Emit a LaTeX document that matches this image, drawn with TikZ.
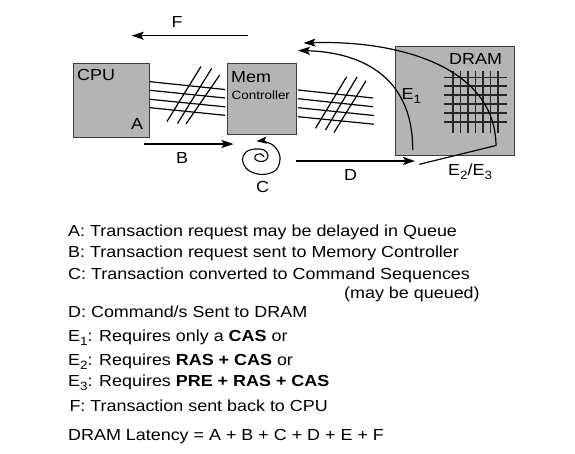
\documentclass[tikz,border=0pt]{standalone}
\usepackage{fontspec}
\setmainfont{Liberation Sans}[FakeStretch=1.12]
\usetikzlibrary{arrows.meta}
\definecolor{boxfill}{RGB}{180,180,180}
\definecolor{boxline}{RGB}{60,60,60}
\newcommand\lowsub[1]{\raisebox{-4pt}{\fontsize{12}{12}\selectfont #1}}
\begin{document}
\begin{tikzpicture}[x=1pt,y=-1pt,
  box/.style={draw=boxline,fill=boxfill,line width=1.3pt,inner sep=0pt,anchor=north west},
  arrowline/.style={line width=1.2pt,-{Stealth[length=12pt,width=8pt,inset=2.5pt]}},
  busline/.style={line width=1.2pt},
  gridline/.style={line width=1.5pt,color=black!85},
  txt/.style={anchor=base west,inner sep=0pt,font=\fontsize{16}{19}\selectfont},
  lab/.style={anchor=base,inner sep=0pt,font=\fontsize{16}{19}\selectfont},
  smalltxt/.style={anchor=base west,inner sep=0pt,font=\fontsize{12}{14}\selectfont}]
\useasboundingbox (0,0) rectangle (575,453);

% boxes
\node[box,minimum width=76pt,minimum height=74pt] (cpu) at (73,63) {};
\node[box,minimum width=69pt,minimum height=71pt] (mem) at (227,63) {};
\node[box,minimum width=119pt,minimum height=109pt] (dram) at (395,46) {};

% DRAM grid
\foreach \i in {0,...,6} \draw[gridline] ({453+7.5*\i},71) -- ({453+7.5*\i},132.5);
\foreach \j in {0,...,5} \draw[gridline] (444,{77.3+8.9*\j}) -- (507,{77.3+8.9*\j});

% bus CPU - Mem
\draw[busline] (150,81.7) -- (225,89.5);
\draw[busline] (150,90.3) -- (225,98);
\draw[busline] (150,99.3) -- (225,106.8);
\draw[busline] (150,107.7) -- (225,115.3);
\draw[busline] (167,121.5) -- (201,66.5);
\draw[busline] (177.5,123.5) -- (211.7,68.3);
\draw[busline] (186,124) -- (219.7,75);

% bus Mem - DRAM
\draw[busline] (298,90) -- (373,98);
\draw[busline] (298,98.7) -- (373,106.7);
\draw[busline] (298,107.7) -- (374,115.5);
\draw[busline] (298,116.7) -- (374,124.2);
\draw[busline] (315.5,128.3) -- (346.5,77);
\draw[busline] (325.5,130) -- (357,77);
\draw[busline] (334,132.5) -- (366,80.8);

% box labels
\node[txt] (cpulab) at (77,80) {CPU};
\node[lab] (alab) at (137,129.3) {A};
\node[txt] (memlab) at (231,82.7) {Mem};
\node[smalltxt] (ctrllab) at (231.5,99) {Controller};
\node[txt] (dramlab) at (449,64) {DRAM};
\node[txt] (e1lab) at (401.5,99.3) {E\lowsub{1}};
\node[txt] (e23lab) at (448,175) {E\lowsub{2}/E\lowsub{3}};

% arrows
\coordinate (fs) at (248,35.7); \coordinate (fe) at (131.7,35.7);
\draw[arrowline] (fs) -- (fe);
\node[lab] (flab) at (177,27.3) {F};
\coordinate (bs) at (144,144); \coordinate (be) at (233.5,144);
\draw[arrowline] (bs) -- (be);
\node[lab] (blab) at (182,163.3) {B};
\coordinate (ds) at (296,161); \coordinate (de) at (415,161);
\draw[arrowline] (ds) -- (de);
\node[lab] (dlab) at (350.5,180) {D};
\node[lab] (clab) at (262.5,192.3) {C};

% spiral C
\draw[line width=1.1pt,-{Stealth[length=10pt,width=7pt,inset=2pt]}]
  plot[smooth,tension=0.6] coordinates {(264,157) (261,154) (256,155) (255,159) (260,161.5) (266,160) (268,155) (264,150) (255,149) (246,152) (242.5,160) (248,170) (262,174.5) (276,170) (280,157) (274,146) (264,141.5) (256.5,141.2)};

% E curves
\coordinate (e1s) at (412.7,150); \coordinate (e1t) at (298,50.5);
\draw[arrowline] (e1s) .. controls (413,72) and (355,52) .. (e1t);
\coordinate (e2s) at (419.3,164.3); \coordinate (e2m) at (496,145.5); \coordinate (e2t) at (303.5,43);
\draw[arrowline] (e2s) -- (e2m) .. controls (495,65) and (395,40) .. (e2t);

% legend text
\node[txt] (la) at (68,236) {A: Transaction request may be delayed in Queue};
\node[txt] (lb) at (68,257.3) {B: Transaction request sent to Memory Controller};
\node[txt] (lc) at (68,279) {C: Transaction converted to Command Sequences};
\node[txt] (lc2) at (344,298) {(may be queued)};
\node[txt] (ld) at (68,317.3) {D: Command/s Sent to DRAM};
\node[txt] (le1) at (68,341.7) {E\lowsub{1}: Requires only a \textbf{CAS} or};
\node[txt] (le2) at (68,365) {E\lowsub{2}: Requires \textbf{RAS + CAS} or};
\node[txt] (le3) at (68,386.7) {E\lowsub{3}: Requires \textbf{PRE + RAS + CAS}};
\node[txt] (lf) at (69.3,411.7) {F: Transaction sent back to CPU};
\node[txt] (lat) at (68,440.7) {DRAM Latency = A + B + C + D + E + F};
\end{tikzpicture}
\end{document}
